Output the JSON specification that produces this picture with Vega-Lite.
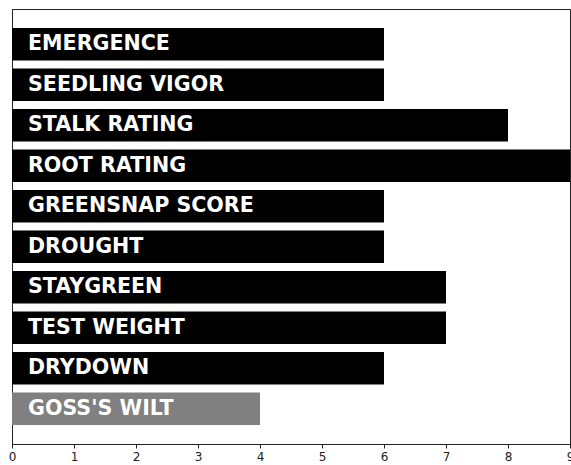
{
  "$schema": "https://vega.github.io/schema/vega-lite/v6.json",
  "autosize": {"type": "none"},
  "width": 558,
  "height": 435,
  "padding": {"left": 12, "top": 9, "right": 1, "bottom": 21},
  "background": "white",
  "config": {
    "view": {"stroke": "#222222", "strokeWidth": 1},
    "font": "DejaVu Sans"
  },
  "data": {
    "values": [
      {"trait": "EMERGENCE", "score": 6, "kind": "main"},
      {"trait": "SEEDLING VIGOR", "score": 6, "kind": "main"},
      {"trait": "STALK RATING", "score": 8, "kind": "main"},
      {"trait": "ROOT RATING", "score": 9, "kind": "main"},
      {"trait": "GREENSNAP SCORE", "score": 6, "kind": "main"},
      {"trait": "DROUGHT", "score": 6, "kind": "main"},
      {"trait": "STAYGREEN", "score": 7, "kind": "main"},
      {"trait": "TEST WEIGHT", "score": 7, "kind": "main"},
      {"trait": "DRYDOWN", "score": 6, "kind": "main"},
      {"trait": "GOSS'S WILT", "score": 4, "kind": "disease"}
    ]
  },
  "encoding": {
    "y": {
      "field": "trait",
      "type": "nominal",
      "sort": null,
      "scale": {"paddingInner": 0.2, "paddingOuter": 0.47},
      "axis": {"title": null, "labels": false, "ticks": false, "domain": true, "domainColor": "#222222"}
    }
  },
  "layer": [
    {
      "mark": {"type": "bar"},
      "encoding": {
        "x": {
          "field": "score",
          "type": "quantitative",
          "scale": {"domain": [0, 9], "nice": false, "zero": true},
          "axis": {
            "title": null,
            "values": [0, 1, 2, 3, 4, 5, 6, 7, 8, 9],
            "format": "d",
            "grid": false,
            "tickSize": 4,
            "tickColor": "#222222",
            "domainColor": "#222222",
            "labelFontSize": 12,
            "labelColor": "#222222",
            "labelPadding": 3,
            "labelFont": "DejaVu Sans",
            "labelFlush": false
          }
        },
        "color": {
          "field": "kind",
          "type": "nominal",
          "scale": {"domain": ["main", "disease"], "range": ["#000000", "#808080"]},
          "legend": null
        }
      }
    },
    {
      "mark": {
        "type": "text",
        "align": "left",
        "baseline": "middle",
        "dx": 16,
        "dy": 0,
        "font": "DejaVu Sans",
        "fontWeight": "bold",
        "fontSize": 20.6,
        "color": "white"
      },
      "encoding": {
        "x": {"datum": 0, "type": "quantitative"},
        "text": {"field": "trait"}
      }
    }
  ]
}
